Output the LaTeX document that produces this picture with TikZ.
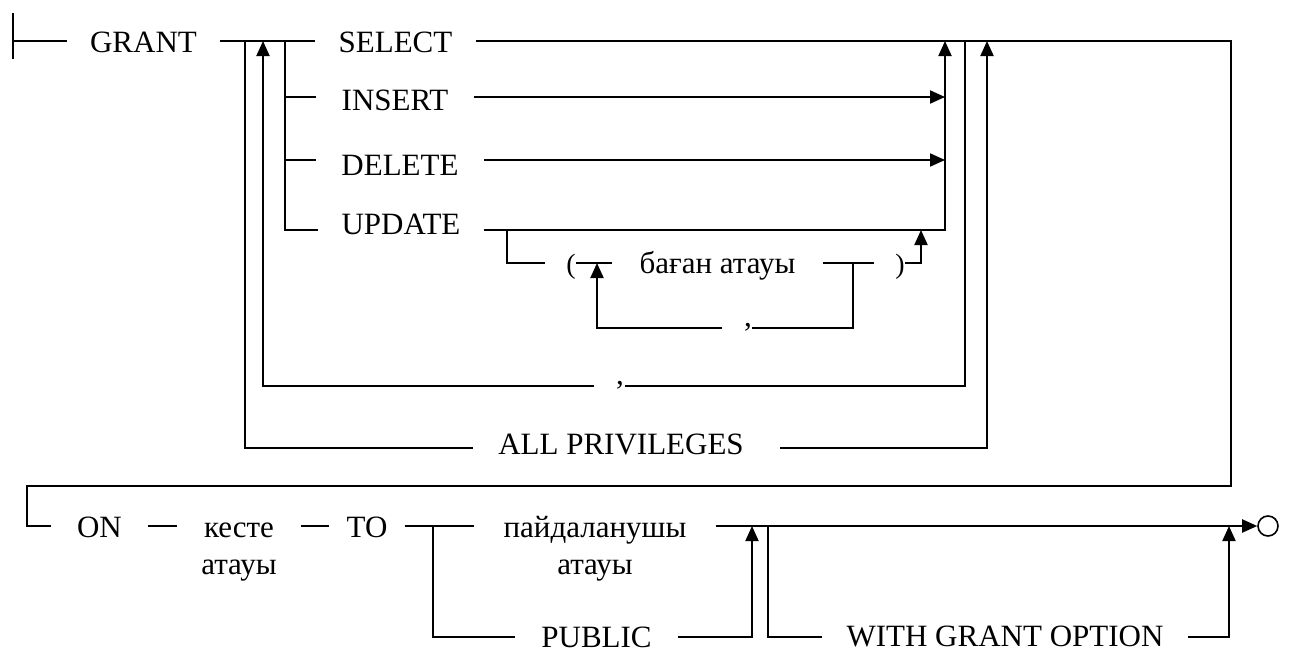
\documentclass[tikz,border=0pt]{standalone}
\usepackage{fontspec}
\setmainfont{Liberation Serif}
\usetikzlibrary{arrows.meta}
\begin{document}
\begin{tikzpicture}[x=1pt,y=-1pt,
  rail/.style={line width=2pt},
  arr/.style={rail,-{Triangle[length=15pt,width=13pt]}},
  term/.style={font=\fontsize{31}{37}\selectfont, inner ysep=0pt, inner xsep=23pt, anchor=base},
  paren/.style={term, font=\fontsize{28}{33}\selectfont, inner xsep=21pt}]
\useasboundingbox (0,0) rectangle (1291,653);

% ---------- keywords and names ----------
\node[term, inner xsep=22.5pt] (grant)  at (143.5,52) {GRANT};
\node[term, inner xsep=23.5pt] (select) at (395.5,52) {SELECT};
\node[term, inner xsep=25pt]   (insert) at (395,110)  {INSERT};
\node[term, inner xsep=25.5pt] (delete) at (400,175)  {DELETE};
\node[term, inner xsep=23pt]   (update) at (401,234)  {UPDATE};
\node[paren] (lpar) at (571,273) {(};
\node[term, inner xsep=27pt]   (col)    at (717.5,273) {баған атауы};
\node[paren] (rpar) at (900,273) {)};
\node[term, inner xsep=22pt]   (c1)     at (748,326)  {,};
\node[term, inner xsep=22pt]   (c2)     at (620,384)  {,};
\node[term, inner xsep=25pt]   (allp)   at (621,454)  {ALL PRIVILEGES};

\node[term, inner xsep=26pt]   (on)     at (99.5,537) {ON};
\node[term, inner xsep=24.5pt] (tbl)    at (239,537)
  {\begin{tabular}[t]{@{}c@{}}кесте\\атауы\end{tabular}};
\node[term, inner xsep=17pt]   (to)     at (367,537)  {TO};
\node[term, inner xsep=29pt]   (user)   at (595,537)
  {\begin{tabular}[t]{@{}c@{}}пайдаланушы\\атауы\end{tabular}};
\node[term, inner xsep=26pt]   (public) at (596.5,647) {PUBLIC};
\node[term, inner xsep=24.5pt] (wgo)    at (1005,646) {WITH GRANT OPTION};
\node[circle, draw, line width=1.6pt, minimum size=20pt, inner sep=0pt] (fin) at (1268,526) {};

% ---------- rail points ----------
\coordinate (stopT) at (13,13);
\coordinate (stopB) at (13,59);
\coordinate (s0) at (13,41);
\coordinate (j1) at (245,41);
\coordinate (j2) at (263,41);
\coordinate (j3) at (285,41);
\coordinate (bins) at (285,97);
\coordinate (bdel) at (285,160);
\coordinate (bupd) at (285,230);
\coordinate (k0) at (945,41);
\coordinate (kins) at (945,97);
\coordinate (kdel) at (945,160);
\coordinate (kupd) at (945,230);
\coordinate (l0) at (965,41);
\coordinate (l1) at (965,386);
\coordinate (l2) at (625,386);
\coordinate (l3) at (263,386);
\coordinate (a0) at (245,448);
\coordinate (a3) at (780,448);
\coordinate (a1) at (987,448);
\coordinate (a2) at (987,41);
\coordinate (e0) at (1231,41);
\coordinate (e1) at (1231,486);
\coordinate (r0) at (27,486);
\coordinate (r1) at (27,526);
\coordinate (u0) at (507,230);
\coordinate (u1) at (507,263);
\coordinate (p0) at (576,263);
\coordinate (q0) at (597,263);
\coordinate (q1) at (597,328);
\coordinate (v0) at (853,263);
\coordinate (v1) at (853,328);
\coordinate (c1r) at (752,328);
\coordinate (p1) at (905,263);
\coordinate (p2) at (921,263);
\coordinate (p3) at (921,230);
\coordinate (t0) at (433,526);
\coordinate (t1) at (433,637);
\coordinate (w0) at (752,637);
\coordinate (w1) at (752,526);
\coordinate (g0) at (768,526);
\coordinate (g1) at (768,637);
\coordinate (h0) at (1229,637);
\coordinate (h1) at (1229,526);

% ---------- privileges ----------
\draw[rail] (stopT) -- (stopB);
\draw[rail] (s0) -- (grant.west |- s0);
\draw[rail] (grant.east |- s0) -- (select.west |- s0);
\draw[rail] (j3) -- (bupd) -- (update.west |- bupd);
\draw[rail] (bins) -- (insert.west |- bins);
\draw[rail] (bdel) -- (delete.west |- bdel);
\draw[arr] (insert.east |- bins) -- (kins);
\draw[arr] (delete.east |- bdel) -- (kdel);
\draw[arr] (update.east |- bupd) -- (kupd) -- (k0);

% column list of UPDATE
\draw[rail] (u0) -- (u1) -- (lpar.west |- u1);
\draw[rail] (p0) -- (col.west |- u1);
\draw[rail] (col.east |- u1) -- (rpar.west |- u1);
\draw[rail] (v0) -- (v1) -- (c1r);
\draw[arr] (c1.west |- v1) -- (q1) -- (q0);
\draw[arr] (p1) -- (p2) -- (p3);

% repeat with comma
\draw[rail] (l0) -- (l1) -- (l2);
\draw[arr] (c2.west |- l1) -- (l3) -- (j2);

% ALL PRIVILEGES
\draw[rail] (j1) -- (a0) -- (allp.west |- a0);
\draw[arr] (a3) -- (a1) -- (a2);

% wrap to second line
\draw[rail] (select.east |- s0) -- (e0) -- (e1) -- (r0) -- (r1) -- (on.west |- r1);

% ---------- ON ... TO ... ----------
\draw[rail] (on.east |- r1) -- (tbl.west |- r1);
\draw[rail] (tbl.east |- r1) -- (to.west |- r1);
\draw[rail] (to.east |- r1) -- (user.west |- r1);
\draw[rail] (t0) -- (t1) -- (public.west |- t1);
\draw[arr] (public.east |- t1) -- (w0) -- (w1);
\draw[arr] (user.east |- r1) -- (fin.west);
\draw[rail] (g0) -- (g1) -- (wgo.west |- g1);
\draw[arr] (wgo.east |- g1) -- (h0) -- (h1);
\end{tikzpicture}
\end{document}
